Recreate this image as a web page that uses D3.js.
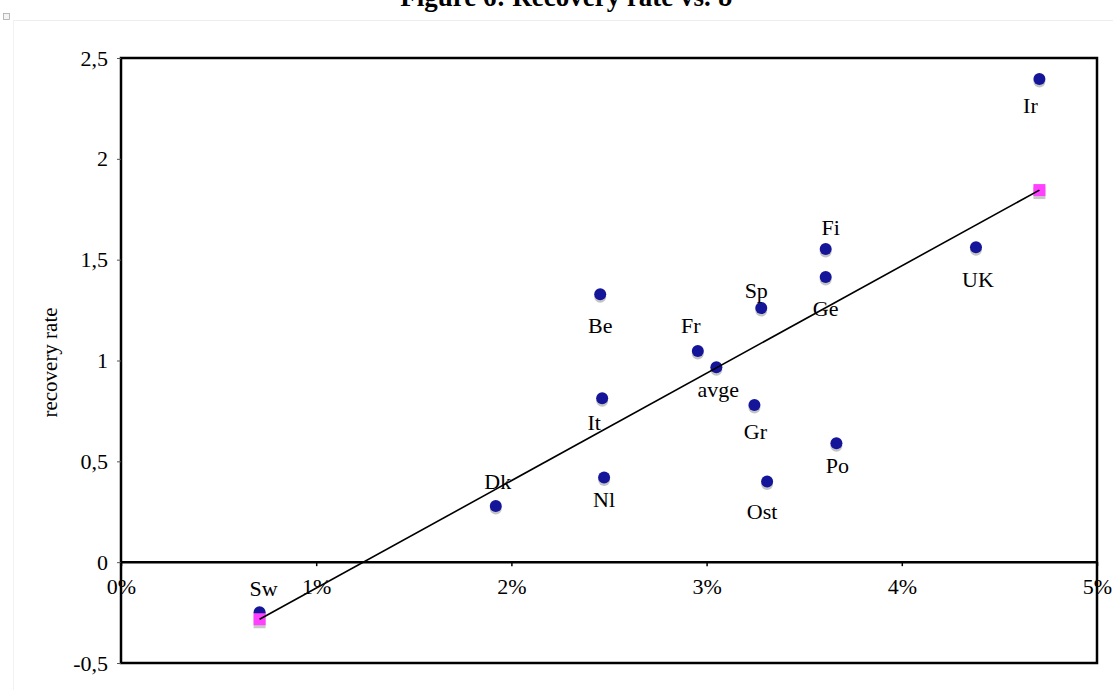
<!DOCTYPE html>
<html>
<head>
<meta charset="utf-8">
<script src="https://cdn.jsdelivr.net/npm/d3@7"></script>
<style>
  body { margin: 0; background: #fff; }
  svg text { font-family: "Liberation Serif", "Times New Roman", serif; }
</style>
</head>
<body>
<div id="chart"></div>
<script>
// data
var countries = ["Ir", "Fi", "Ge", "UK", "Be", "Sp", "Fr", "avge", "It", "Gr", "Po", "Nl", "Ost", "Dk", "Sw"];
var theta = [4.705, 3.61, 3.61, 4.38, 2.455, 3.28, 2.955, 3.05, 2.465, 3.245, 3.665, 2.475, 3.31, 1.92, 0.71];
var recovery = [2.396, 1.553, 1.414, 1.562, 1.329, 1.26, 1.047, 0.967, 0.813, 0.779, 0.59, 0.42, 0.40, 0.278, -0.248];
var fitTheta = [0.71, 4.705];
var fitRecovery = [-0.283, 1.845];
var xTicks = [0, 1, 2, 3, 4, 5];
var yTicks = [-0.5, 0, 0.5, 1, 1.5, 2, 2.5];

var svgWidth = 1113;
var svgHeight = 690;
var margin = { top: 58, right: 16, bottom: 27, left: 121 };
var width = svgWidth - margin.left - margin.right;
var height = svgHeight - margin.top - margin.bottom;

// where each label sits relative to its dot
var labelOffset = {
  Ir: [-9, 34], Fi: [5, -14], Ge: [0, 39], UK: [2, 40], Be: [0, 39],
  Sp: [-5, -10], Fr: [-7, -18], avge: [2, 30], It: [-8, 32], Gr: [1, 34],
  Po: [1, 30], Nl: [0, 30], Ost: [-5, 37], Dk: [2, -17], Sw: [4, -16]
};

var svg = d3.select("#chart")
  .append("svg")
  .attr("width", svgWidth)
  .attr("height", svgHeight);

// faint page frame and title
svg.append("line").attr("x1", 13).attr("x2", svgWidth).attr("y1", 20.5).attr("y2", 20.5)
  .attr("stroke", "#eeeeee");
svg.append("line").attr("x1", 13.5).attr("x2", 13.5).attr("y1", 20).attr("y2", svgHeight)
  .attr("stroke", "#f2f2f2");
svg.append("rect").attr("x", 3.5).attr("y", 13.5).attr("width", 6).attr("height", 6)
  .attr("fill", "#f4f4f4").attr("stroke", "#aaa").attr("stroke-width", 0.8);

svg.append("text")
  .attr("x", 567)
  .attr("y", 6)
  .attr("text-anchor", "middle")
  .attr("font-size", "27px")
  .attr("font-weight", "bold")
  .text("Figure 6: Recovery rate vs. \u03D1");

var chartGroup = svg.append("g")
  .attr("transform", `translate(${margin.left}, ${margin.top})`);

var xScale = d3.scaleLinear().domain([0, 5]).range([0, width]);
var yScale = d3.scaleLinear().domain([-0.5, 2.5]).range([height, 0]);

// plot frame
chartGroup.append("rect")
  .attr("width", width)
  .attr("height", height)
  .attr("fill", "none")
  .attr("stroke", "#000")
  .attr("stroke-width", 2.5);

// y axis
var leftAxis = d3.axisLeft(yScale)
  .tickValues(yTicks)
  .tickSize(4)
  .tickPadding(9)
  .tickFormat(d => String(d).replace(".", ","));

var yAxis = chartGroup.append("g").call(leftAxis);
yAxis.select(".domain").remove();
yAxis.selectAll("text").attr("font-size", "22px").attr("font-family", "Liberation Serif").attr("fill", "#000");
yAxis.selectAll("line").attr("stroke", "#555");

// x axis sits on the zero line
var bottomAxis = d3.axisBottom(xScale)
  .tickValues(xTicks)
  .tickSize(4)
  .tickPadding(12)
  .tickFormat(d => d + "%");

var xAxis = chartGroup.append("g")
  .attr("transform", `translate(0, ${yScale(0)})`)
  .call(bottomAxis);
xAxis.select(".domain").attr("stroke-width", 2.5).attr("d", `M0,0H${width}`);
xAxis.selectAll("text").attr("font-size", "22px").attr("font-family", "Liberation Serif").attr("fill", "#000");
xAxis.selectAll("line").attr("stroke-width", 1.5);

// axis title
chartGroup.append("text")
  .attr("transform", "rotate(-90)")
  .attr("x", -(yScale(1) + 2))
  .attr("y", -margin.left + 57)
  .attr("text-anchor", "middle")
  .attr("font-size", "21px")
  .text("recovery rate");

var points = countries.map((c, i) => ({ name: c, x: theta[i], y: recovery[i] }));

// dot shadows, then dots
chartGroup.selectAll("circle.shadow")
  .data(points)
  .enter()
  .append("circle")
  .attr("class", "shadow")
  .attr("cx", d => xScale(d.x))
  .attr("cy", d => yScale(d.y) + 2.5)
  .attr("r", 6)
  .attr("fill", "#c4c4c4");

chartGroup.selectAll("circle.dot")
  .data(points)
  .enter()
  .append("circle")
  .attr("class", "dot")
  .attr("cx", d => xScale(d.x))
  .attr("cy", d => yScale(d.y))
  .attr("r", 6)
  .attr("fill", "#15159a");

// fitted values
var fit = fitTheta.map((t, i) => ({ x: t, y: fitRecovery[i] }));

chartGroup.selectAll("rect.fitshadow")
  .data(fit)
  .enter()
  .append("rect")
  .attr("class", "fitshadow")
  .attr("x", d => xScale(d.x) - 6)
  .attr("y", d => yScale(d.y) - 3)
  .attr("width", 12)
  .attr("height", 12)
  .attr("fill", "#c8c8c8");

chartGroup.selectAll("rect.fit")
  .data(fit)
  .enter()
  .append("rect")
  .attr("class", "fit")
  .attr("x", d => xScale(d.x) - 6)
  .attr("y", d => yScale(d.y) - 6)
  .attr("width", 12)
  .attr("height", 12)
  .attr("fill", "#ff40ff");

chartGroup.append("path")
  .datum(fit)
  .attr("d", d3.line().x(d => xScale(d.x)).y(d => yScale(d.y)))
  .attr("fill", "none")
  .attr("stroke", "#000")
  .attr("stroke-width", 1.6);

// country labels
chartGroup.selectAll("text.label")
  .data(points)
  .enter()
  .append("text")
  .attr("class", "label")
  .attr("x", d => xScale(d.x) + labelOffset[d.name][0])
  .attr("y", d => yScale(d.y) + labelOffset[d.name][1])
  .attr("text-anchor", "middle")
  .attr("font-size", "22px")
  .text(d => d.name);
</script>
</body>
</html>
